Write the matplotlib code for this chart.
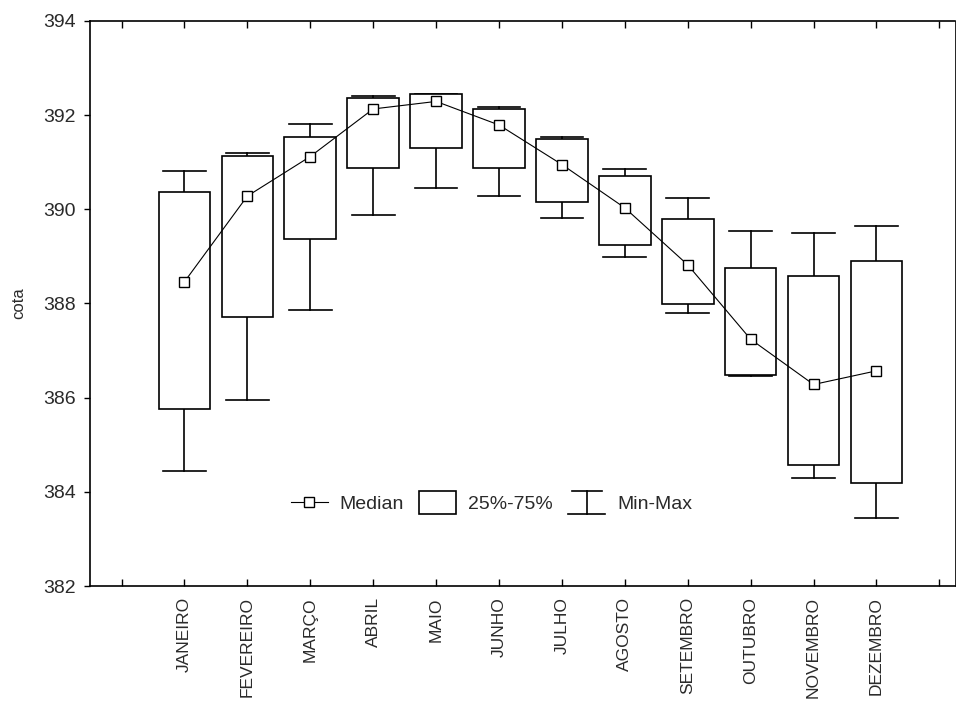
import matplotlib
matplotlib.use("Agg")
import matplotlib.pyplot as plt
from matplotlib.lines import Line2D
from matplotlib.patches import Rectangle
from matplotlib.legend_handler import HandlerBase

plt.rcParams['font.family'] = ['Liberation Sans', 'DejaVu Sans']

months = ["JANEIRO", "FEVEREIRO", "MARÇO", "ABRIL", "MAIO", "JUNHO",
          "JULHO", "AGOSTO", "SETEMBRO", "OUTUBRO", "NOVEMBRO", "DEZEMBRO"]
median = [388.46, 390.28, 391.12, 392.13, 392.29, 391.79,
          390.95, 390.03, 388.82, 387.24, 386.28, 386.57]
q25 = [385.75, 387.71, 389.37, 390.88, 391.30, 390.88,
       390.16, 389.24, 387.99, 386.48, 384.58, 384.19]
q75 = [390.37, 391.13, 391.54, 392.37, 392.45, 392.13,
       391.50, 390.70, 389.79, 388.75, 388.58, 388.91]
vmin = [384.45, 385.95, 387.87, 389.87, 390.45, 390.29,
        389.82, 388.99, 387.79, 386.46, 384.29, 383.44]
vmax = [390.82, 391.20, 391.82, 392.41, 392.45, 392.18,
        391.54, 390.86, 390.24, 389.54, 389.49, 389.65]

TXT = '#2a2a2a'

fig = plt.figure(figsize=(9.58, 7.2), dpi=100)
ax = fig.add_axes([0.094, 0.186, 0.903, 0.785])

box_w = 0.82
cap_w = 0.68
lw = 1.2
xs = list(range(1, len(months) + 1))

for x, lo, hi, mn, mx in zip(xs, q25, q75, vmin, vmax):
    ax.add_patch(Rectangle((x - box_w / 2, lo), box_w, hi - lo,
                           facecolor='white', edgecolor='black', lw=lw, zorder=2))
    ax.plot([x, x], [hi, mx], color='black', lw=lw, zorder=1.5)
    ax.plot([x, x], [lo, mn], color='black', lw=lw, zorder=1.5)
    ax.plot([x - cap_w / 2, x + cap_w / 2], [mx, mx], color='black', lw=lw, zorder=1.5)
    ax.plot([x - cap_w / 2, x + cap_w / 2], [mn, mn], color='black', lw=lw, zorder=1.5)

ax.plot(xs, median, color='black', lw=0.8, marker='s', markersize=7,
        markerfacecolor='white', markeredgecolor='black', markeredgewidth=1.0, zorder=3)

ax.set_xlim(-0.5, 13.25)
ax.set_ylim(382, 394)
ax.set_yticks(range(382, 395, 2))
ax.set_xticks(range(0, 14))
ax.set_xticklabels([""] + months + [""], rotation=90, fontsize=12.5, color=TXT)
ax.tick_params(axis='x', direction='in', length=5, top=True, width=1.0, pad=8)
ax.tick_params(axis='y', direction='out', length=4, width=1.0, labelsize=14,
               labelcolor=TXT, pad=6)
ax.set_ylabel("cota", fontsize=12, labelpad=12, color=TXT)
for s in ax.spines.values():
    s.set_linewidth(1.2)
ax.spines['right'].set_linewidth(0.6)


class MinMaxHandler(HandlerBase):
    def create_artists(self, legend, orig_handle, xdescent, ydescent,
                       width, height, fontsize, trans):
        cx = width / 2 - xdescent
        c = 0.5 * width
        l1 = Line2D([cx - c * 0.8, cx + c * 0.8], [height + 3, height + 3], color='black', lw=lw, transform=trans)
        l2 = Line2D([cx - c, cx + c], [-4, -4], color='black', lw=lw, transform=trans)
        l3 = Line2D([cx, cx], [-4, height + 3], color='black', lw=lw, transform=trans)
        return [l1, l2, l3]


class BoxHandler(HandlerBase):
    def create_artists(self, legend, orig_handle, xdescent, ydescent,
                       width, height, fontsize, trans):
        r = Rectangle((-xdescent, -4), width, height + 7, facecolor='white',
                      edgecolor='black', lw=lw, transform=trans)
        return [r]


h_med = Line2D([], [], color='black', lw=0.8, marker='s', markersize=7,
               markerfacecolor='white', markeredgecolor='black')
h_box = Rectangle((0, 0), 1, 1)
h_mm = Line2D([], [])
leg = ax.legend([h_med, h_box, h_mm], ["Median", "25%-75%", "Min-Max"],
                handler_map={h_box: BoxHandler(), h_mm: MinMaxHandler()},
                loc='center', bbox_to_anchor=(0.464, 0.145), ncol=3, frameon=False,
                fontsize=14, handlelength=1.9, columnspacing=0.8, handletextpad=0.6)
for t in leg.get_texts():
    t.set_color(TXT)

fig.savefig("out.png", dpi=100)
